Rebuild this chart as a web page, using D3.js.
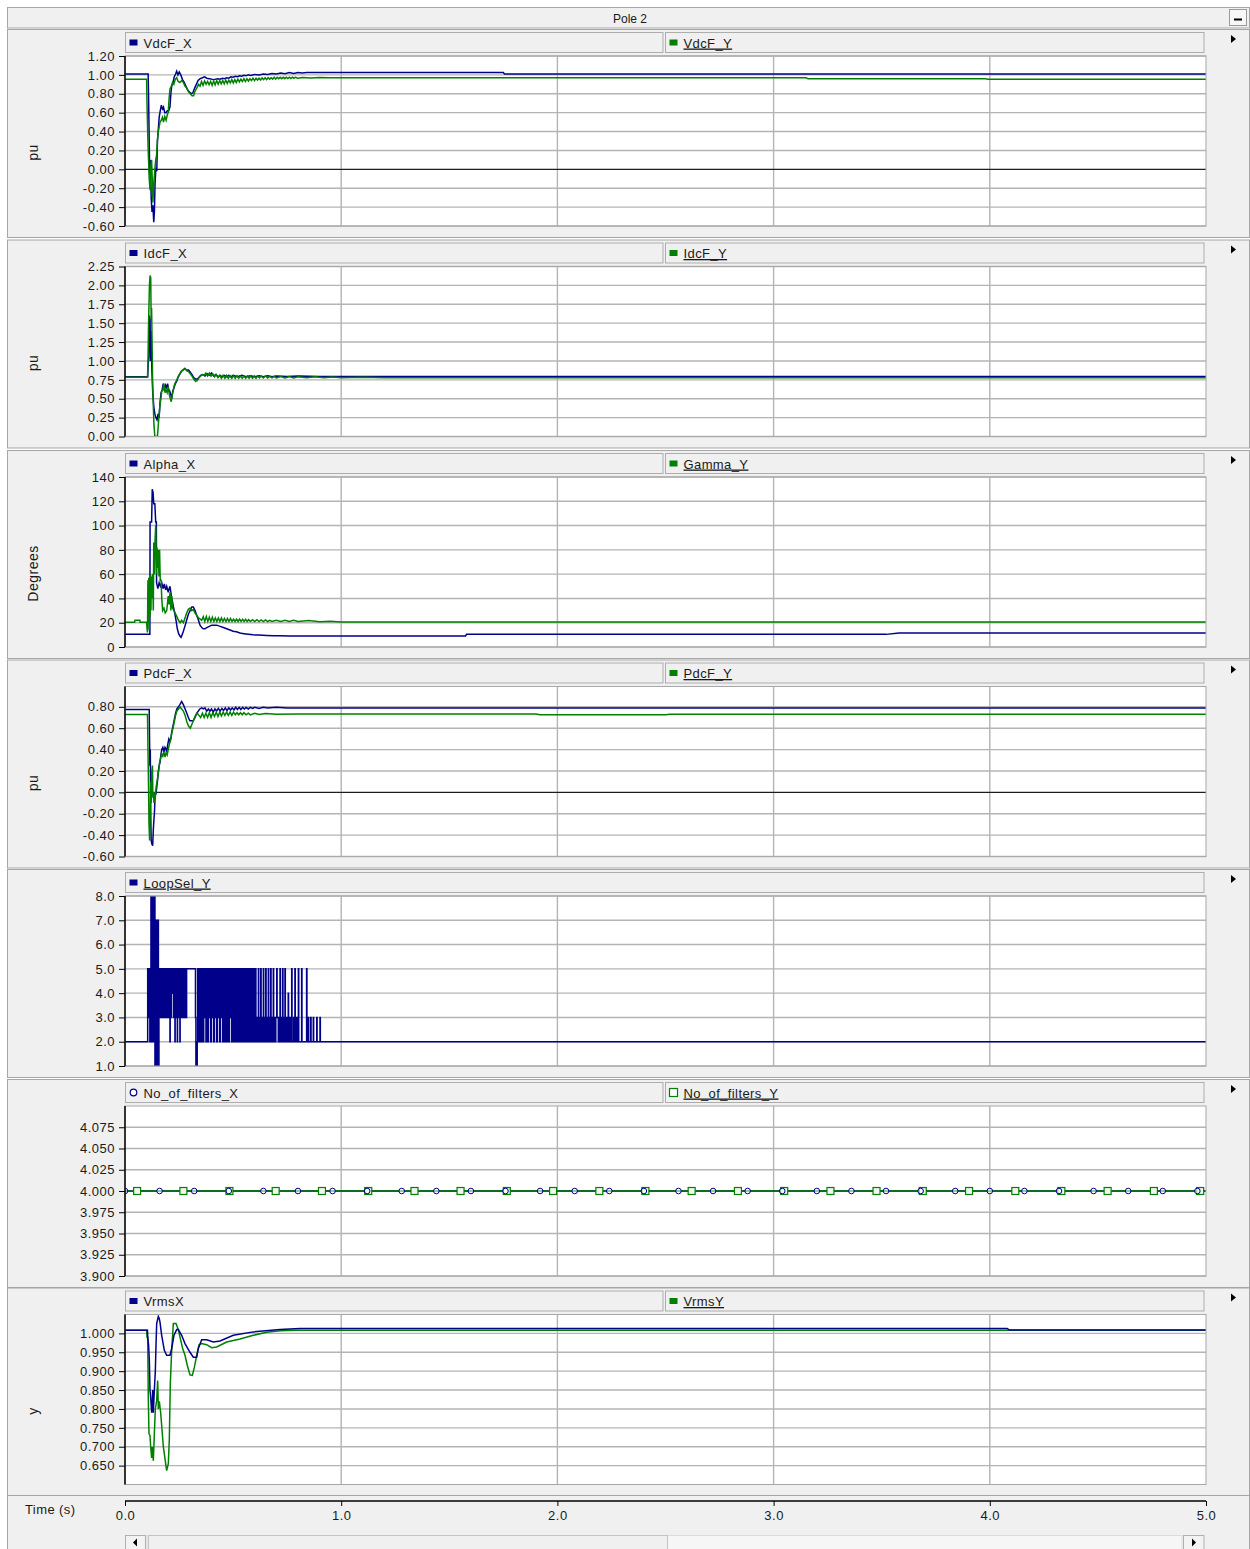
<!DOCTYPE html>
<html><head><meta charset="utf-8">
<script src="https://cdn.jsdelivr.net/npm/d3@7"></script>
<style>
body{margin:0;background:#fff;}
text{font-family:"Liberation Sans",Arial,sans-serif;fill:#1a1a1a;}
</style></head><body>
<svg id="chart" width="1250" height="1549"></svg>
<script>
// ---------------- DATA ----------------
const chartTitle = "Pole 2";
const timeTicks = [0,1,2,3,4,5];
const timeLabel = "Time (s)";

const vdcTicks = [-0.6,-0.4,-0.2,0,0.2,0.4,0.6,0.8,1.0,1.2];
const idcTicks = [0,0.25,0.5,0.75,1,1.25,1.5,1.75,2,2.25];
const angleTicks = [0,20,40,60,80,100,120,140];
const pdcTicks = [-0.6,-0.4,-0.2,0,0.2,0.4,0.6,0.8];
const loopTicks = [1,2,3,4,5,6,7,8];
const filterTicks = [3.9,3.925,3.95,3.975,4.0,4.025,4.05,4.075];
const vrmsTicks = [0.65,0.7,0.75,0.8,0.85,0.9,0.95,1.0];

const vdcX = [[0,1.01],[0.107,1.01],[0.109,0.78],[0.112,0.3],[0.115,-0.15],[0.118,0.1],[0.121,-0.3],[0.125,-0.45],[0.129,-0.38],[0.133,-0.56],[0.136,-0.45],[0.139,-0.15],[0.143,0.02],[0.147,-0.02],[0.15,0.3],[0.154,0.42],[0.158,0.55],[0.163,0.62],[0.168,0.68],[0.173,0.64],[0.178,0.66],[0.184,0.6],[0.19,0.6],[0.196,0.62],[0.202,0.62],[0.208,0.66],[0.212,0.8],[0.216,0.88],[0.222,0.92],[0.228,0.98],[0.234,1.01],[0.239,1.04],[0.245,1.0],[0.251,1.03],[0.258,1.0],[0.266,0.95],[0.274,0.92],[0.282,0.88],[0.29,0.84],[0.298,0.82],[0.306,0.8],[0.314,0.81],[0.322,0.86],[0.33,0.9],[0.338,0.94],[0.348,0.96],[0.358,0.97],[0.368,0.98],[0.378,0.965],[0.39,0.96],[0.4,0.955],[0.41,0.95],[0.42,0.955],[0.43,0.96],[0.44,0.955],[0.45,0.965],[0.46,0.96],[0.47,0.97],[0.48,0.965],[0.49,0.98],[0.5,0.975],[0.51,0.985],[0.52,0.98],[0.53,0.99],[0.54,0.985],[0.55,0.995],[0.56,0.99],[0.57,1.0],[0.58,0.995],[0.6,1.005],[0.62,1.0],[0.64,1.01],[0.66,1.005],[0.68,1.015],[0.7,1.01],[0.72,1.02],[0.74,1.012],[0.76,1.024],[0.78,1.016],[0.8,1.024],[0.82,1.02],[0.84,1.024],[1.75,1.024],[1.755,1.01],[5,1.01]];
const vdcY = [[0,0.955],[0.1,0.955],[0.102,0.67],[0.106,0.3],[0.108,0.16],[0.112,-0.1],[0.116,-0.22],[0.12,0.05],[0.123,0.1],[0.126,-0.1],[0.129,-0.35],[0.133,-0.15],[0.138,0.0],[0.142,0.1],[0.146,0.15],[0.15,0.3],[0.154,0.4],[0.158,0.45],[0.162,0.5],[0.168,0.52],[0.173,0.55],[0.178,0.5],[0.184,0.56],[0.19,0.52],[0.196,0.58],[0.2,0.6],[0.204,0.75],[0.208,0.85],[0.214,0.88],[0.22,0.92],[0.226,0.9],[0.232,0.95],[0.239,0.97],[0.246,0.93],[0.254,0.92],[0.262,0.94],[0.27,0.92],[0.278,0.88],[0.286,0.86],[0.294,0.82],[0.302,0.8],[0.31,0.78],[0.317,0.78],[0.324,0.83],[0.332,0.86],[0.34,0.9],[0.347,0.88],[0.354,0.93],[0.361,0.89],[0.368,0.935],[0.375,0.9],[0.382,0.93],[0.389,0.895],[0.396,0.93],[0.403,0.89],[0.41,0.935],[0.417,0.895],[0.424,0.94],[0.431,0.9],[0.438,0.94],[0.445,0.905],[0.452,0.94],[0.459,0.905],[0.466,0.945],[0.473,0.91],[0.48,0.945],[0.487,0.915],[0.494,0.95],[0.501,0.915],[0.508,0.95],[0.515,0.92],[0.522,0.955],[0.529,0.925],[0.536,0.955],[0.543,0.93],[0.55,0.96],[0.557,0.93],[0.564,0.96],[0.571,0.935],[0.578,0.96],[0.585,0.94],[0.592,0.965],[0.599,0.94],[0.606,0.965],[0.613,0.945],[0.62,0.965],[0.627,0.945],[0.634,0.97],[0.641,0.95],[0.648,0.97],[0.655,0.95],[0.662,0.97],[0.669,0.955],[0.676,0.97],[0.683,0.955],[0.69,0.975],[0.697,0.955],[0.704,0.975],[0.711,0.96],[0.718,0.975],[0.725,0.96],[0.732,0.975],[0.739,0.96],[0.746,0.975],[0.753,0.962],[0.76,0.975],[0.767,0.962],[0.774,0.975],[0.781,0.965],[0.788,0.975],[0.8,0.965],[0.82,0.972],[0.86,0.966],[0.9,0.972],[0.94,0.97],[3.15,0.97],[3.16,0.958],[3.98,0.958],[3.99,0.955],[5,0.955]];

const idcX = [[0,0.79],[0.105,0.79],[0.107,0.95],[0.110,1.05],[0.113,1.6],[0.116,1.55],[0.118,1.0],[0.121,1.4],[0.124,0.9],[0.128,0.6],[0.133,0.4],[0.138,0.3],[0.143,0.25],[0.148,0.22],[0.153,0.3],[0.158,0.25],[0.162,0.45],[0.167,0.58],[0.172,0.62],[0.177,0.7],[0.182,0.6],[0.187,0.68],[0.192,0.65],[0.197,0.7],[0.202,0.62],[0.207,0.6],[0.212,0.55],[0.216,0.5],[0.221,0.6],[0.227,0.65],[0.233,0.7],[0.239,0.73],[0.245,0.78],[0.252,0.82],[0.26,0.86],[0.268,0.88],[0.276,0.9],[0.285,0.88],[0.294,0.88],[0.302,0.85],[0.31,0.82],[0.318,0.78],[0.326,0.76],[0.334,0.76],[0.342,0.78],[0.35,0.81],[0.36,0.82],[0.37,0.8],[0.38,0.83],[0.39,0.81],[0.4,0.84],[0.41,0.8],[0.42,0.82],[0.43,0.79],[0.44,0.81],[0.45,0.79],[0.46,0.81],[0.47,0.79],[0.48,0.81],[0.49,0.79],[0.5,0.81],[0.52,0.79],[0.54,0.81],[0.56,0.79],[0.58,0.805],[0.6,0.79],[0.62,0.805],[0.64,0.79],[0.66,0.805],[0.68,0.79],[0.7,0.8],[0.75,0.795],[0.8,0.8],[0.9,0.795],[1.0,0.795],[5,0.795]];
const idcY = [[0,0.785],[0.104,0.785],[0.106,0.95],[0.109,1.5],[0.111,1.75],[0.113,2.0],[0.116,2.13],[0.119,2.1],[0.121,1.55],[0.123,1.7],[0.126,1.1],[0.128,0.7],[0.131,0.4],[0.134,0.15],[0.138,0.0],[0.15,0.0],[0.154,0.15],[0.158,0.3],[0.162,0.42],[0.166,0.5],[0.17,0.6],[0.175,0.62],[0.18,0.7],[0.185,0.58],[0.19,0.62],[0.195,0.58],[0.2,0.66],[0.205,0.55],[0.21,0.5],[0.214,0.46],[0.218,0.55],[0.223,0.6],[0.228,0.68],[0.234,0.72],[0.24,0.75],[0.247,0.8],[0.254,0.83],[0.262,0.87],[0.27,0.88],[0.278,0.9],[0.286,0.87],[0.294,0.86],[0.302,0.83],[0.31,0.8],[0.318,0.76],[0.326,0.73],[0.334,0.74],[0.342,0.78],[0.35,0.8],[0.358,0.82],[0.366,0.81],[0.374,0.84],[0.382,0.8],[0.39,0.84],[0.398,0.8],[0.406,0.83],[0.414,0.79],[0.422,0.82],[0.43,0.78],[0.438,0.81],[0.446,0.77],[0.454,0.81],[0.462,0.77],[0.47,0.81],[0.478,0.77],[0.486,0.805],[0.494,0.77],[0.502,0.805],[0.51,0.77],[0.518,0.805],[0.526,0.77],[0.534,0.8],[0.542,0.77],[0.55,0.8],[0.558,0.77],[0.566,0.8],[0.574,0.77],[0.582,0.8],[0.59,0.77],[0.598,0.8],[0.606,0.77],[0.614,0.8],[0.622,0.775],[0.63,0.8],[0.64,0.775],[0.65,0.8],[0.66,0.775],[0.67,0.795],[0.68,0.775],[0.69,0.795],[0.7,0.775],[0.72,0.795],[0.74,0.775],[0.76,0.795],[0.78,0.775],[0.8,0.79],[0.84,0.776],[0.88,0.79],[0.92,0.776],[0.96,0.788],[1.0,0.776],[1.1,0.784],[1.2,0.778],[5,0.778]];

const alphaX = [[0,10.5],[0.115,10.5],[0.116,103],[0.123,103],[0.125,120],[0.126,130],[0.13,127],[0.133,118],[0.138,118],[0.142,103],[0.145,103],[0.146,53],[0.152,48],[0.158,53],[0.164,50],[0.17,53],[0.176,48],[0.182,52],[0.188,47],[0.193,50],[0.2,45],[0.204,48],[0.208,50],[0.212,45],[0.216,40],[0.22,37],[0.224,33],[0.23,28],[0.236,22],[0.242,15],[0.248,11],[0.254,9],[0.259,8],[0.264,10],[0.27,13],[0.277,17],[0.285,22],[0.293,27],[0.301,30],[0.309,33],[0.316,33],[0.324,30],[0.332,26],[0.34,22],[0.347,18],[0.355,16],[0.362,15],[0.37,15],[0.378,16],[0.39,17],[0.401,18],[0.412,18],[0.424,18],[0.44,17],[0.455,16],[0.47,15],[0.486,14],[0.5,13],[0.515,12.5],[0.532,11.5],[0.55,11],[0.57,10.5],[0.593,10],[0.62,9.8],[0.655,9.5],[0.69,9.3],[0.717,9.2],[0.76,9.1],[0.809,9.1],[1.575,9.1],[1.58,10.4],[3.52,10.4],[3.58,11.6],[5,11.6]];
const gammaY = [[0,20.3],[0.045,20.3],[0.046,22],[0.069,22],[0.07,20.3],[0.1,20.3],[0.102,15],[0.104,12],[0.106,55],[0.108,20],[0.11,57],[0.112,14],[0.114,50],[0.116,25],[0.118,60],[0.12,30],[0.122,58],[0.125,40],[0.128,60],[0.131,30],[0.133,86],[0.136,60],[0.139,88],[0.142,100],[0.144,80],[0.146,60],[0.148,82],[0.151,65],[0.154,80],[0.157,58],[0.16,80],[0.163,55],[0.167,55],[0.17,40],[0.174,30],[0.18,32],[0.186,28],[0.193,30],[0.2,42],[0.204,35],[0.208,45],[0.212,30],[0.216,42],[0.22,32],[0.226,30],[0.232,28],[0.24,25],[0.247,22],[0.255,20],[0.262,22],[0.27,20],[0.278,24],[0.285,28],[0.293,31],[0.301,32],[0.309,30],[0.316,31],[0.324,28],[0.332,26],[0.34,24],[0.348,23],[0.355,22],[0.362,25],[0.369,21],[0.376,25],[0.383,21],[0.39,24.5],[0.397,21],[0.404,24.5],[0.411,21],[0.418,24],[0.425,21],[0.432,24],[0.439,21],[0.446,24],[0.453,21],[0.46,23.5],[0.467,21],[0.474,23.5],[0.481,21],[0.488,23.5],[0.495,21],[0.502,23],[0.509,21],[0.516,23],[0.523,21],[0.53,23],[0.537,21],[0.544,22.8],[0.551,21],[0.558,22.8],[0.565,21],[0.572,22.5],[0.58,21],[0.59,22.5],[0.6,21],[0.61,22.5],[0.62,21],[0.63,22.3],[0.64,21],[0.65,22.3],[0.66,21],[0.67,22],[0.68,21],[0.7,22],[0.72,21],[0.74,22],[0.76,21],[0.78,22],[0.8,21],[0.85,21.8],[0.9,20.8],[0.95,21.3],[1.0,20.6],[5,20.6]];

const pdcX = [[0,0.775],[0.112,0.775],[0.113,0.6],[0.115,0.25],[0.117,0.4],[0.119,-0.2],[0.121,-0.45],[0.124,-0.48],[0.128,-0.5],[0.131,-0.35],[0.134,-0.25],[0.136,-0.2],[0.14,0.0],[0.143,-0.02],[0.147,0.05],[0.151,0.12],[0.154,0.2],[0.158,0.25],[0.162,0.28],[0.166,0.35],[0.17,0.4],[0.175,0.42],[0.18,0.38],[0.185,0.42],[0.19,0.4],[0.193,0.38],[0.198,0.45],[0.203,0.5],[0.208,0.48],[0.212,0.5],[0.216,0.56],[0.222,0.62],[0.228,0.68],[0.234,0.74],[0.24,0.78],[0.247,0.8],[0.254,0.82],[0.262,0.85],[0.27,0.82],[0.278,0.78],[0.286,0.74],[0.293,0.7],[0.3,0.67],[0.308,0.67],[0.316,0.67],[0.324,0.7],[0.332,0.74],[0.339,0.76],[0.346,0.78],[0.355,0.79],[0.362,0.78],[0.37,0.79],[0.378,0.76],[0.386,0.78],[0.393,0.76],[0.4,0.78],[0.408,0.75],[0.416,0.78],[0.424,0.76],[0.432,0.785],[0.44,0.76],[0.448,0.785],[0.456,0.765],[0.464,0.79],[0.472,0.765],[0.48,0.79],[0.488,0.77],[0.496,0.79],[0.504,0.77],[0.512,0.795],[0.52,0.775],[0.528,0.795],[0.536,0.775],[0.544,0.795],[0.552,0.78],[0.56,0.795],[0.57,0.78],[0.58,0.795],[0.59,0.785],[0.6,0.795],[0.62,0.785],[0.64,0.795],[0.66,0.79],[0.7,0.795],[0.75,0.79],[1.0,0.79],[5,0.79]];
const pdcY = [[0,0.727],[0.104,0.727],[0.105,0.6],[0.107,0.3],[0.109,0.05],[0.111,-0.3],[0.114,-0.45],[0.117,-0.2],[0.119,0.1],[0.121,-0.1],[0.124,0.2],[0.127,0.25],[0.129,-0.05],[0.131,0.0],[0.134,-0.1],[0.137,0.0],[0.14,-0.05],[0.144,0.05],[0.148,0.1],[0.152,0.15],[0.156,0.2],[0.16,0.28],[0.165,0.32],[0.17,0.36],[0.175,0.34],[0.18,0.38],[0.185,0.33],[0.19,0.37],[0.195,0.35],[0.2,0.4],[0.205,0.45],[0.21,0.48],[0.216,0.55],[0.222,0.6],[0.228,0.66],[0.234,0.72],[0.24,0.76],[0.247,0.78],[0.254,0.8],[0.262,0.78],[0.27,0.76],[0.278,0.72],[0.286,0.66],[0.294,0.62],[0.302,0.6],[0.31,0.64],[0.318,0.68],[0.326,0.72],[0.334,0.74],[0.342,0.72],[0.35,0.7],[0.358,0.74],[0.366,0.7],[0.374,0.74],[0.382,0.7],[0.39,0.745],[0.398,0.7],[0.406,0.745],[0.414,0.71],[0.422,0.75],[0.43,0.71],[0.438,0.75],[0.446,0.715],[0.454,0.75],[0.462,0.72],[0.47,0.75],[0.478,0.72],[0.486,0.75],[0.494,0.72],[0.502,0.75],[0.51,0.725],[0.518,0.745],[0.526,0.725],[0.534,0.745],[0.542,0.725],[0.55,0.745],[0.56,0.725],[0.57,0.74],[0.58,0.725],[0.6,0.74],[0.62,0.728],[0.65,0.738],[0.7,0.73],[0.8,0.732],[1.9,0.732],[1.92,0.726],[2.5,0.726],[2.52,0.73],[5,0.73]];

const loopSelY = [[0,2],[0.105,5],[0.111,3],[0.112,5],[0.115,2],[0.1165,5],[0.12,8],[0.1225,2],[0.124,8],[0.126,2],[0.1275,5],[0.131,8],[0.1335,2],[0.135,8],[0.1385,1],[0.1405,7],[0.1425,1],[0.1445,7],[0.1465,1],[0.1485,7],[0.151,1],[0.153,7],[0.1545,1],[0.157,5],
[0.16,3],[0.161,5],[0.164,3],[0.165,5],[0.168,3],[0.169,5],[0.172,3],[0.173,5],[0.177,3],[0.178,5],[0.182,3],[0.183,5],[0.187,3],[0.188,5],[0.192,3],[0.193,5],[0.198,3],[0.199,5],[0.203,3],[0.204,5],[0.208,2],[0.209,5],[0.214,3],[0.215,5],[0.22,4],[0.221,5],[0.225,3],[0.226,5],[0.231,2],[0.232,5],[0.236,3],[0.237,5],[0.242,2],[0.243,5],[0.248,3],[0.249,5],[0.254,2],[0.255,5],[0.26,3],[0.261,5],[0.266,3],[0.267,5],[0.272,3],[0.273,5],[0.278,3],[0.279,5],[0.284,3],[0.285,5],
[0.326,3],[0.328,1],[0.334,2],
[0.336,5],[0.3395,2],[0.343,5],[0.3465,2],[0.35,5],[0.3535,2],[0.357,5],[0.3605,2],[0.364,5],[0.3675,3],[0.371,5],[0.3745,2],[0.378,5],[0.3815,2],[0.385,5],[0.3885,3],[0.392,5],[0.3955,2],[0.399,5],[0.4025,3],[0.406,5],[0.4095,2],[0.413,5],[0.4165,3],[0.42,5],[0.4235,2],[0.427,5],[0.4305,3],[0.434,5],[0.4375,2],[0.441,5],[0.4445,3],[0.448,5],[0.4515,2],[0.455,5],[0.4585,2],[0.462,5],[0.4655,2],[0.469,5],[0.4725,2],[0.476,5],[0.4795,2],[0.483,5],[0.4865,3],[0.49,5],[0.4935,2],[0.497,5],[0.5005,2],[0.504,5],[0.5075,2],[0.511,5],[0.5145,2],[0.518,5],[0.5215,2],[0.525,5],[0.5285,2],[0.532,5],[0.5355,2],[0.539,5],[0.5425,2],[0.546,5],[0.5495,2],[0.553,5],[0.5565,2],[0.56,5],[0.5635,2],[0.567,5],[0.5705,2],[0.574,5],[0.5775,2],[0.581,5],[0.5845,2],[0.588,5],[0.5915,2],[0.595,5],[0.5985,2],[0.602,5],[0.6055,2],
[0.609,2],[0.6115,3],[0.614,2],[0.617,5],[0.6185,2],[0.621,3],[0.6235,2],[0.626,3],[0.628,5],[0.6295,2],[0.632,3],[0.6345,2],[0.637,3],[0.64,5],[0.6415,2],[0.644,3],[0.6465,2],[0.649,3],[0.651,5],[0.6525,2],[0.655,3],[0.6575,2],[0.66,3],[0.663,5],[0.6645,2],[0.667,3],[0.6695,2],[0.672,3],[0.674,5],[0.6755,2],[0.678,3],[0.6805,2],[0.683,3],[0.686,5],[0.6875,3],[0.69,2],[0.6925,3],[0.695,2],[0.6975,3],[0.702,5],[0.7035,3],[0.709,2],[0.7115,3],[0.714,2],[0.717,5],[0.7185,2],[0.721,3],[0.7235,2],[0.726,3],[0.729,5],[0.7305,2],[0.733,3],[0.7355,2],[0.738,3],[0.74,5],[0.7415,2],[0.744,3],[0.7465,2],[0.749,3],[0.7515,2],[0.755,4],[0.7565,2],[0.76,3],[0.7615,2],[0.766,3],[0.7675,2],[0.771,5],[0.7725,2],[0.78,3],[0.7815,2],[0.786,5],[0.7875,2],[0.794,3],[0.7955,2],[0.802,5],[0.8035,2],[0.817,5],[0.8185,2],[0.84,5],[0.8415,2],[0.848,3],[0.8495,2],[0.859,3],[0.8605,2],[0.871,3],[0.8725,2],[0.887,3],[0.8885,2],[0.902,3],[0.9035,2],[5,2]];

const filtersLevelX = [[0,4.0],[5,4.0]];
const filtersLevelY = [[0,4.0],[5,4.0]];
const filtersXMarkTimes = [0,0.16,0.32,0.48,0.64,0.80,0.96,1.12,1.28,1.44,1.60,1.76,1.92,2.08,2.24,2.40,2.56,2.72,2.88,3.04,3.20,3.36,3.52,3.68,3.84,4.00,4.16,4.32,4.48,4.64,4.80,4.96];
const filtersYMarkTimes = [0.056,0.27,0.483,0.697,0.911,1.125,1.339,1.552,1.766,1.98,2.194,2.407,2.621,2.835,3.049,3.263,3.476,3.69,3.904,4.118,4.331,4.545,4.759,4.973];
const filtersValue = 4.0;

const vrmsX = [[0,1.008],[0.104,1.008],[0.105,0.99],[0.109,0.97],[0.1125,0.93],[0.1156,0.85],[0.119,0.83],[0.1233,0.79],[0.126,0.8],[0.128,0.85],[0.131,0.79],[0.1357,0.85],[0.1403,0.9],[0.143,0.96],[0.1465,1.026],[0.1542,1.045],[0.158,1.04],[0.1619,1.03],[0.1696,0.995],[0.1819,0.955],[0.1927,0.942],[0.2081,0.942],[0.2159,0.96],[0.2266,0.995],[0.239,1.01],[0.2467,1.01],[0.2621,0.995],[0.2775,0.973],[0.3006,0.95],[0.3161,0.937],[0.3315,0.937],[0.3392,0.96],[0.3546,0.983],[0.3777,0.983],[0.4086,0.977],[0.4394,0.98],[0.5011,0.995],[0.5936,1.004],[0.7169,1.01],[0.8094,1.013],[4.08,1.013],[4.09,1.009],[5,1.009]];
const vrmsY = [[0,1.008],[0.1,1.008],[0.102,0.99],[0.105,0.99],[0.108,0.82],[0.111,0.734],[0.1156,0.73],[0.1187,0.7],[0.1233,0.67],[0.1264,0.7],[0.131,0.663],[0.1357,0.734],[0.1403,0.8],[0.1465,0.822],[0.1511,0.875],[0.1542,0.8],[0.1588,0.82],[0.165,0.79],[0.1773,0.7],[0.1881,0.655],[0.1927,0.637],[0.2004,0.655],[0.205,0.72],[0.2096,0.867],[0.2159,0.955],[0.2236,1.026],[0.2359,1.026],[0.2467,1.01],[0.2544,0.99],[0.2667,0.96],[0.2775,0.942],[0.2883,0.915],[0.3006,0.89],[0.3114,0.889],[0.3207,0.91],[0.3315,0.942],[0.3423,0.97],[0.3546,0.973],[0.3777,0.97],[0.4009,0.962],[0.424,0.964],[0.4702,0.977],[0.5319,0.985],[0.5936,0.995],[0.6553,1.003],[0.7169,1.007],[0.794,1.008],[5,1.008]];

// ---------------- LAYOUT / STYLE ----------------
const BLUE = "#00008b", GREEN = "#008000";
const X0 = 125, X1 = 1206;
const plotTops = [56, 266.5, 477, 686.5, 896, 1106, 1314.5];
const plotH = 170;

const fmt = n => (v => v.toFixed(n));
const panels = [
  {legend:["VdcF_X","VdcF_Y"], series:[{d:vdcX,c:BLUE},{d:vdcY,c:GREEN}], domain:[-0.6,1.2], ticks:vdcTicks, f:fmt(2), title:"pu", zero:true},
  {legend:["IdcF_X","IdcF_Y"], series:[{d:idcX,c:BLUE},{d:idcY,c:GREEN}], domain:[0,2.25], ticks:idcTicks, f:fmt(2), title:"pu"},
  {legend:["Alpha_X","Gamma_Y"], series:[{d:alphaX,c:BLUE},{d:gammaY,c:GREEN}], domain:[0,140], ticks:angleTicks, f:fmt(0), title:"Degrees"},
  {legend:["PdcF_X","PdcF_Y"], series:[{d:pdcX,c:BLUE},{d:pdcY,c:GREEN}], domain:[-0.6,0.99], ticks:pdcTicks, f:fmt(2), title:"pu", zero:true},
  {legend:["LoopSel_Y"], series:[{d:loopSelY,c:BLUE,step:true}], domain:[1,8], ticks:loopTicks, f:fmt(1), title:""},
  {legend:["No_of_filters_X","No_of_filters_Y"], series:[{d:filtersLevelX,c:BLUE},{d:filtersLevelY,c:GREEN}], domain:[3.9,4.1], ticks:filterTicks, f:fmt(3), title:"", markers:true},
  {legend:["VrmsX","VrmsY"], series:[{d:vrmsY,c:GREEN},{d:vrmsX,c:BLUE}], domain:[0.6,1.05], ticks:vrmsTicks, f:fmt(3), title:"y"}
];

const svg = d3.select("#chart");
svg.append("rect").attr("width",1250).attr("height",1549).attr("fill","#fff");
const x = d3.scaleLinear().domain([0,5]).range([X0,X1]);

// title bar
svg.append("rect").attr("x",7.5).attr("y",7.5).attr("width",1242).attr("height",20.5).attr("fill","#f0f0f0").attr("stroke","#a6a6a6");
svg.append("text").attr("x",630).attr("y",22.5).attr("text-anchor","middle").attr("font-size",12).text(chartTitle);
svg.append("rect").attr("x",1229.5).attr("y",9.5).attr("width",17).attr("height",16).attr("fill","#f7f7f7").attr("stroke","#9a9a9a");
svg.append("line").attr("x1",1234).attr("x2",1242).attr("y1",19.5).attr("y2",19.5).attr("stroke","#000").attr("stroke-width",2);

panels.forEach((p, i) => {
  const top = plotTops[i], bot = top + plotH;
  const g = svg.append("g");
  g.append("rect").attr("x",7.5).attr("y",top-26.5).attr("width",1242).attr("height",208).attr("fill","#f0f0f0").attr("stroke","#a6a6a6");
  const ty = top - 17;
  g.append("path").attr("d",`M1231,${ty-4}L1236,${ty}L1231,${ty+4}Z`).attr("fill","#000");
  const boxes = p.legend.length === 2 ? [[125.5,537.5],[665.5,538.5]] : [[125.5,1078.5]];
  p.legend.forEach((lab, k) => {
    const [bx, bw] = boxes[k];
    g.append("rect").attr("x",bx).attr("y",top-23.5).attr("width",bw).attr("height",20).attr("fill","#f0f0f0").attr("stroke","#adadad");
    const col = k === 0 ? BLUE : GREEN;
    if (p.markers) {
      if (k === 0) g.append("circle").attr("cx",bx+8).attr("cy",top-13.5).attr("r",3.3).attr("fill","#fff").attr("stroke",col).attr("stroke-width",1.2);
      else g.append("rect").attr("x",bx+4).attr("y",top-17.5).attr("width",8).attr("height",8).attr("fill","#fff").attr("stroke",col).attr("stroke-width",1.2);
    } else {
      g.append("rect").attr("x",bx+4).attr("y",top-16.5).attr("width",8).attr("height",6).attr("fill",col);
    }
    const underline = (k === 1) || (p.legend.length === 1);
    g.append("text").attr("x",bx+18).attr("y",top-8.5).attr("font-size",13).attr("letter-spacing",0.4)
      .attr("text-decoration", underline ? "underline" : null).text(lab);
  });
  g.append("rect").attr("x",X0).attr("y",top).attr("width",X1-X0).attr("height",plotH).attr("fill","#fff");
  const y = d3.scaleLinear().domain(p.domain).range([bot, top]);
  g.selectAll(null).data(p.ticks).enter().append("line")
    .attr("x1",X0).attr("x2",X1).attr("y1",d=>y(d)).attr("y2",d=>y(d))
    .attr("stroke","#b4b4b4").attr("stroke-width",1.4);
  g.selectAll(null).data(timeTicks.filter(t => t > 0 && t < 5)).enter().append("line")
    .attr("x1",d=>x(d)).attr("x2",d=>x(d)).attr("y1",top).attr("y2",bot)
    .attr("stroke","#b4b4b4").attr("stroke-width",1.4);
  if (p.zero) g.append("line").attr("x1",X0).attr("x2",X1).attr("y1",y(0)).attr("y2",y(0)).attr("stroke","#000").attr("stroke-width",1);
  const cid = "clip" + i;
  svg.append("clipPath").attr("id",cid).append("rect").attr("x",X0).attr("y",top).attr("width",X1-X0).attr("height",plotH);
  const sg = g.append("g").attr("clip-path",`url(#${cid})`);
  p.series.forEach(s => {
    const line = d3.line().x(d=>x(d[0])).y(d=>y(d[1]));
    if (s.step) line.curve(d3.curveStepAfter);
    sg.append("path").attr("d",line(s.d)).attr("fill","none").attr("stroke",s.c).attr("stroke-width",1.5);
  });
  if (p.markers) {
    sg.selectAll(null).data(filtersYMarkTimes).enter().append("rect")
      .attr("x",d=>x(d)-3.5).attr("y",y(filtersValue)-3.5).attr("width",7).attr("height",7)
      .attr("fill","#eef6ee").attr("stroke",GREEN).attr("stroke-width",1.2);
    sg.selectAll(null).data(filtersXMarkTimes).enter().append("circle")
      .attr("cx",d=>x(d)).attr("cy",y(filtersValue)).attr("r",2.8)
      .attr("fill","#fff").attr("fill-opacity",0.6).attr("stroke",BLUE).attr("stroke-width",1);
  }
  g.append("rect").attr("x",X0).attr("y",top).attr("width",X1-X0).attr("height",plotH).attr("fill","none").attr("stroke","#a8a8a8");
  const ax = g.append("g").attr("transform",`translate(${X0},0)`)
    .call(d3.axisLeft(y).tickValues(p.ticks).tickFormat(p.f).tickSize(6).tickPadding(4));
  ax.select(".domain").remove();
  ax.selectAll("text").attr("font-size",13).attr("letter-spacing",0.5).attr("font-family","Liberation Sans, Arial, sans-serif").attr("fill","#1a1a1a");
  ax.selectAll("line").attr("stroke","#000");
  g.append("line").attr("x1",X0).attr("x2",X0).attr("y1",top).attr("y2",bot).attr("stroke","#000").attr("stroke-width",1.5);
  if (p.title) {
    const cy = (top + bot) / 2 + 11.5;
    g.append("text").attr("transform",`translate(38,${cy}) rotate(-90)`).attr("text-anchor","middle")
      .attr("font-size",14).attr("letter-spacing",0.5).text(p.title);
  }
});

svg.append("rect").attr("x",7.5).attr("y",1495.5).attr("width",1242).attr("height",60).attr("fill","#f0f0f0").attr("stroke","#a6a6a6");
const xa = svg.append("g").attr("transform","translate(0,1501)")
  .call(d3.axisBottom(x).tickValues(timeTicks).tickFormat(v => v.toFixed(1)).tickSize(5).tickPadding(5));
xa.select(".domain").attr("stroke","#000").attr("stroke-width",1.3).attr("d",`M${X0},0H${X1}`);
xa.selectAll("line").attr("stroke","#000");
xa.selectAll("text").attr("font-size",13).attr("letter-spacing",0.5).attr("font-family","Liberation Sans, Arial, sans-serif").attr("fill","#1a1a1a");
svg.append("text").attr("x",25).attr("y",1514).attr("font-size",13).attr("letter-spacing",0.4).text(timeLabel);

svg.append("rect").attr("x",147).attr("y",1535.5).attr("width",1035).attr("height",14).attr("fill","#f6f6f6").attr("stroke","#dcdcdc");
svg.append("rect").attr("x",148.5).attr("y",1535.5).attr("width",519).attr("height",14).attr("fill","#f0f0f0").attr("stroke","#c3c3c3");
svg.append("rect").attr("x",125.5).attr("y",1535.5).attr("width",20).attr("height",14).attr("fill","#f3f3f3").attr("stroke","#b0b0b0");
svg.append("path").attr("d","M133,1542.5L137,1538.5L137,1546.5Z").attr("fill","#000");
svg.append("rect").attr("x",1183.5).attr("y",1535.5).attr("width",20.5).attr("height",14).attr("fill","#f3f3f3").attr("stroke","#b0b0b0");
svg.append("path").attr("d","M1192,1538.5L1196,1542.5L1192,1546.5Z").attr("fill","#000");
</script>
</body></html>
